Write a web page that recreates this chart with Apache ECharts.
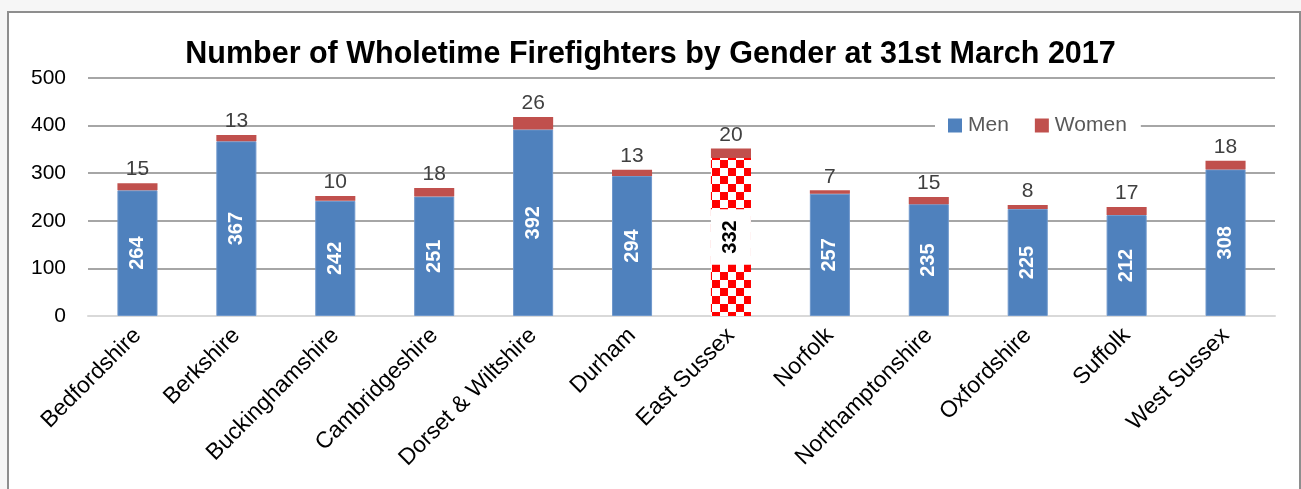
<!DOCTYPE html>
<html>
<head>
<meta charset="utf-8">
<script src="https://cdn.jsdelivr.net/npm/echarts@6/dist/echarts.min.js"></script>
<style>
html,body{margin:0;padding:0;background:#f6f6f6;width:1301px;height:489px;overflow:hidden;}
#frame{position:absolute;left:7px;top:11px;width:1290px;height:490px;border:2px solid #8e8e8e;background:#fff;}
#chart{position:absolute;left:0;top:0;width:1301px;height:489px;}
</style>
</head>
<body>
<div id="frame"></div>
<div id="chart"></div>
<script>
const categories = ['Bedfordshire','Berkshire','Buckinghamshire','Cambridgeshire','Dorset & Wiltshire','Durham','East Sussex','Norfolk','Northamptonshire','Oxfordshire','Suffolk','West Sussex'];
const men = [264, 367, 242, 251, 392, 294, 332, 257, 235, 225, 212, 308];
const women = [15, 13, 10, 18, 26, 13, 20, 7, 15, 8, 17, 18];
const highlighted = 'East Sussex';

const FONT = 'Liberation Sans, Arial, sans-serif';

// checker pattern
const tile = document.createElement('canvas');
tile.width = 16; tile.height = 16;
const c = tile.getContext('2d');
c.fillStyle = '#ffffff'; c.fillRect(0,0,16,16);
c.fillStyle = '#ff0000'; c.fillRect(0,0,8,8); c.fillRect(8,8,8,8);

const menData = men.map((v,i) => {
  if (categories[i] === highlighted) {
    return {
      value: v,
      itemStyle: {color: {image: tile, repeat: 'repeat'}, borderWidth: 0},
      label: {color: '#000', backgroundColor: '#fff', padding: [10, 11, 10, 11]}
    };
  }
  return v;
});

const chart = echarts.init(document.getElementById('chart'), null, {renderer: 'canvas'});
chart.setOption({
  backgroundColor: 'transparent',
  animation: false,
  title: {
    text: 'Number of Wholetime Firefighters by Gender at 31st March 2017',
    left: 'center', top: 34,
    textStyle: {fontFamily: FONT, fontWeight: 'bold', fontSize: 30.5, color: '#000'}
  },
  legend: {
    data: ['Men', 'Women'],
    icon: 'rect',
    left: 935, top: 113,
    itemWidth: 14, itemHeight: 14, itemGap: 26,
    itemStyle: {borderWidth: 0},
    backgroundColor: '#fff',
    padding: [2, 14, 2, 13],
    textStyle: {fontFamily: FONT, fontSize: 21, color: '#595959', padding: [0, 0, 0, 1]}
  },
  grid: {left: 88, right: 26, top: 78, bottom: 173, containLabel: false},
  xAxis: {
    type: 'category',
    data: categories,
    axisLine: {lineStyle: {color: '#d9d9d9', width: 2}},
    axisTick: {show: false},
    axisLabel: {rotate: 45, fontFamily: FONT, fontSize: 23, color: '#000', margin: 16, interval: 0}
  },
  yAxis: {
    type: 'value', min: 0, max: 500, interval: 100,
    axisLine: {show: false}, axisTick: {show: false},
    splitLine: {lineStyle: {color: '#a6a6a6', width: 2}},
    axisLabel: {fontFamily: FONT, fontSize: 21, color: '#000', margin: 22}
  },
  series: [
    {
      name: 'Men', type: 'bar', stack: 'total', data: menData, barWidth: '40.5%',
      itemStyle: {color: '#4f81bd', borderColor: '#6f98cc', borderWidth: 1},
      label: {show: true, position: 'inside', rotate: 90, fontFamily: FONT, fontWeight: 'bold', fontSize: 20, color: '#fff'}
    },
    {
      name: 'Women', type: 'bar', stack: 'total', data: women, barWidth: '40.5%',
      itemStyle: {color: '#c0504d'},
      label: {show: true, position: 'top', distance: 3, fontFamily: FONT, fontSize: 21, color: '#404040'}
    }
  ]
});
</script>
</body>
</html>
